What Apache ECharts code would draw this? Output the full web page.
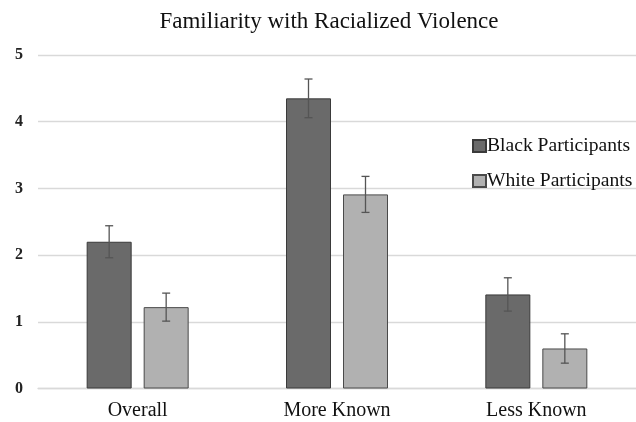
<!DOCTYPE html>
<html>
<head>
<meta charset="utf-8">
<script src="https://cdn.jsdelivr.net/npm/echarts@6/dist/echarts.min.js"></script>
<style>html,body{margin:0;padding:0;background:#fff;}#chart{width:636px;height:422px;}</style>
</head>
<body>
<div id="chart"></div>
<script>
var categories = ['Overall', 'More Known', 'Less Known'];
var blackValues = [2.20, 4.35, 1.41];
var blackErrors = [0.24, 0.29, 0.25];
var whiteValues = [1.22, 2.91, 0.60];
var whiteErrors = [0.21, 0.27, 0.22];
var yTicks = [0, 1, 2, 3, 4, 5];

var FONT = '"Liberation Serif", "DejaVu Serif", serif';
var BAR_W = 45, BAR_GAP_PX = 12;
var OFFSET = (BAR_W + BAR_GAP_PX) / 2;

function errorSeries(values, errors, dir) {
  return {
    type: 'custom',
    silent: true,
    z: 5,
    data: values.map(function (v, i) { return [i, v, v - errors[i], v + errors[i]]; }),
    renderItem: function (params, api) {
      var x = api.coord([api.value(0), 0])[0] + dir * OFFSET;
      var lo = api.coord([api.value(0), api.value(2)])[1];
      var hi = api.coord([api.value(0), api.value(3)])[1];
      var cap = 4;
      var st = { stroke: '#555', lineWidth: 1.3 };
      return {
        type: 'group',
        children: [
          { type: 'line', shape: { x1: x, y1: lo, x2: x, y2: hi }, style: st },
          { type: 'line', shape: { x1: x - cap, y1: lo, x2: x + cap, y2: lo }, style: st },
          { type: 'line', shape: { x1: x - cap, y1: hi, x2: x + cap, y2: hi }, style: st }
        ]
      };
    },
    encode: { x: 0, y: 1 }
  };
}

var chart = echarts.init(document.getElementById('chart'), null, { renderer: 'canvas' });
chart.setOption({
  animation: false,
  backgroundColor: '#fff',
  title: {
    text: 'Familiarity with Racialized Violence',
    left: 324, top: 5, textAlign: 'center',
    textStyle: { fontFamily: FONT, fontSize: 23, fontWeight: 'normal', color: '#111' }
  },
  legend: {
    orient: 'vertical',
    left: 467, top: 131,
    itemWidth: 13, itemHeight: 12, itemGap: 15,
    icon: 'rect',
    textStyle: { fontFamily: FONT, fontSize: 19.6, color: '#111', padding: [0, 0, 0, -4] },
    data: ['Black Participants', 'White Participants']
  },
  grid: { left: 38, top: 55, width: 600, height: 333.5 },
  xAxis: {
    type: 'category',
    data: categories,
    axisLine: { show: true, lineStyle: { color: '#d9d9d9', width: 1.3 } },
    axisTick: { show: false },
    axisLabel: { fontFamily: FONT, fontSize: 20, color: '#111', margin: 12 }
  },
  yAxis: {
    type: 'value',
    min: yTicks[0], max: yTicks[yTicks.length - 1], interval: 1,
    axisLine: { show: false },
    axisTick: { show: false },
    axisLabel: { fontFamily: FONT, fontSize: 16, fontWeight: 'bold', color: '#222', margin: 15 },
    splitLine: { lineStyle: { color: '#d9d9d9', width: 1.3 } }
  },
  series: [
    {
      name: 'Black Participants', type: 'bar', data: blackValues,
      barWidth: BAR_W, barGap: (BAR_GAP_PX / BAR_W * 100) + '%',
      itemStyle: { color: '#6a6a6a', borderColor: '#3a3a3a', borderWidth: 1 }
    },
    {
      name: 'White Participants', type: 'bar', data: whiteValues,
      barWidth: BAR_W,
      itemStyle: { color: '#b1b1b1', borderColor: '#4a4a4a', borderWidth: 1 }
    },
    errorSeries(blackValues, blackErrors, -1),
    errorSeries(whiteValues, whiteErrors, 1)
  ]
});
</script>
</body>
</html>
